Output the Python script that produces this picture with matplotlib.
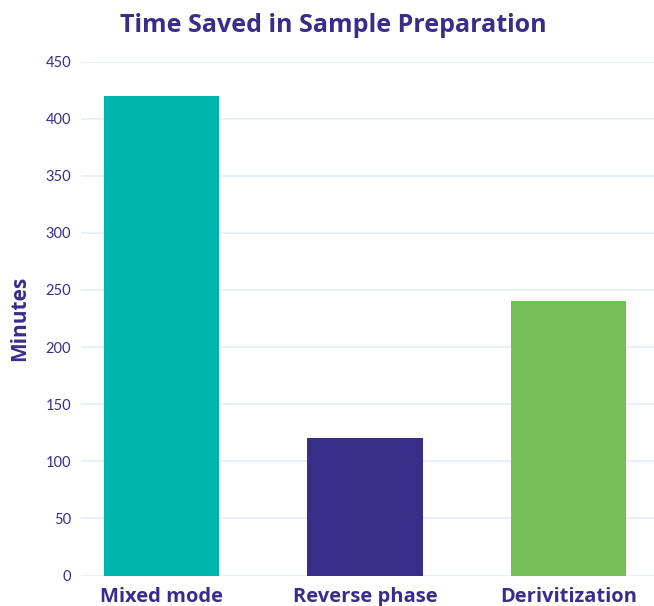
import matplotlib
matplotlib.use("Agg")
import matplotlib.pyplot as plt

categories = ["Mixed mode", "Reverse phase", "Derivitization"]
minutes = [420, 120, 240]
bar_colors = ["#00B5AD", "#392D8A", "#74C054"]
yticks = [0, 50, 100, 150, 200, 250, 300, 350, 400, 450]

text_color = "#392D8A"
plt.rcParams['font.family'] = ['Lato', 'DejaVu Sans']
bold_family = ['Open Sans', 'DejaVu Sans']

fig = plt.figure(figsize=(6.54, 6.06), dpi=100)
ax = fig.add_axes([81/654, 30.5/606, 1 - 81/654, (575.5 - 61.5)/606])

x = list(range(len(categories)))
ax.bar(x, minutes, width=0.566, color=bar_colors, zorder=3)

ax.set_ylim(0, 450)
ax.set_xlim(-0.396, 2.42)
ax.set_yticks(yticks)
ax.set_yticklabels([str(v) for v in yticks], fontsize=10.5, color=text_color)
ax.set_xticks(x)
ax.set_xticklabels(categories, fontsize=14.5, fontweight='bold', color=text_color,
                   family=bold_family)
ax.tick_params(axis='both', length=0)
ax.tick_params(axis='y', pad=7)
ax.tick_params(axis='x', pad=8)
ax.grid(axis='y', color='#E3EEF8', linewidth=1.2, zorder=0)
ax.set_axisbelow(True)
for s in ax.spines.values():
    s.set_visible(False)

ax.set_ylabel("Minutes", fontsize=15, fontweight='bold', color=text_color, labelpad=11,
              family=bold_family)
fig.text(0.51, 1 - 26/606, "Time Saved in Sample Preparation", ha='center', va='center',
         fontsize=18, fontweight='bold', color=text_color, family=bold_family)

fig.savefig("out.png", dpi=100)
